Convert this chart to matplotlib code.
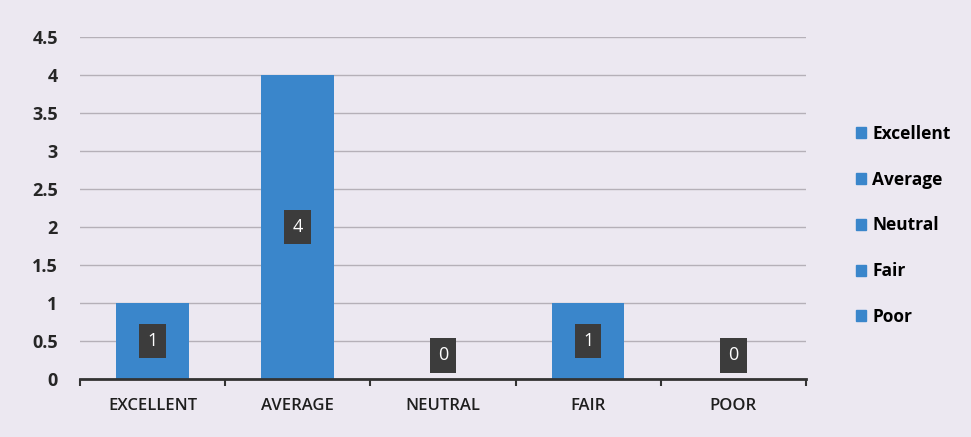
import matplotlib
matplotlib.use("Agg")
import matplotlib.pyplot as plt
from matplotlib.patches import Patch
import numpy as np

categories = ["EXCELLENT", "AVERAGE", "NEUTRAL", "FAIR", "POOR"]
values = [1, 4, 0, 1, 0]
legend_labels = ["Excellent", "Average", "Neutral", "Fair", "Poor"]
yticks = [0, 0.5, 1, 1.5, 2, 2.5, 3, 3.5, 4, 4.5]

bar_color = "#3a86cb"
bg = "#ece8f1"
plt.rcParams['font.family'] = ['Open Sans', 'DejaVu Sans']

fig = plt.figure(figsize=(9.71, 4.37), dpi=100, facecolor=bg)
ax = fig.add_axes([0.0824, 0.1327, 0.830 - 0.0824, 0.9153 - 0.1327])
ax.set_facecolor(bg)

x = np.arange(len(categories))
ax.bar(x, values, width=0.5, color=bar_color, zorder=2)
ax.set_xlim(-0.5, len(categories) - 0.5)
ax.set_ylim(0, 4.5)
ax.set_yticks(yticks)
ax.set_yticklabels([f"{t:g}" for t in yticks], fontsize=13, fontweight="bold", color="#262626")
ax.set_xticks(x)
ax.set_xticklabels(categories, fontsize=12, color="#1e1e1e", fontweight="semibold")
ax.tick_params(axis="x", length=0, pad=14)
ax.tick_params(axis="y", length=0, pad=16)
ax.set_xticks(np.arange(-0.5, len(categories)), minor=True)
ax.tick_params(axis="x", which="minor", length=5, width=1.5, color="#333333", direction="out")
ax.yaxis.grid(True, color="#b5b0b8", linewidth=1, zorder=0)
for s in ["top", "right", "left"]:
    ax.spines[s].set_visible(False)
ax.spines["bottom"].set_linewidth(2)
ax.spines["bottom"].set_color("#333333")

for xi, v in zip(x, values):
    ax.text(xi, v / 2 if v > 0 else 0.31, str(v), ha="center", va="center",
            color="white", fontsize=13,
            bbox=dict(boxstyle="square,pad=0.45", fc="#3c3c3c", ec="none"), zorder=3)

handles = [Patch(color=bar_color) for _ in legend_labels]
fig.legend(handles, legend_labels, loc="center left", bbox_to_anchor=(0.865, 0.484),
           frameon=False, handlelength=0.6, handleheight=0.6,
           handletextpad=0.35, labelspacing=1.6, prop={"weight": "bold", "size": 12.5})

fig.savefig("out.png", dpi=100, facecolor=bg)
